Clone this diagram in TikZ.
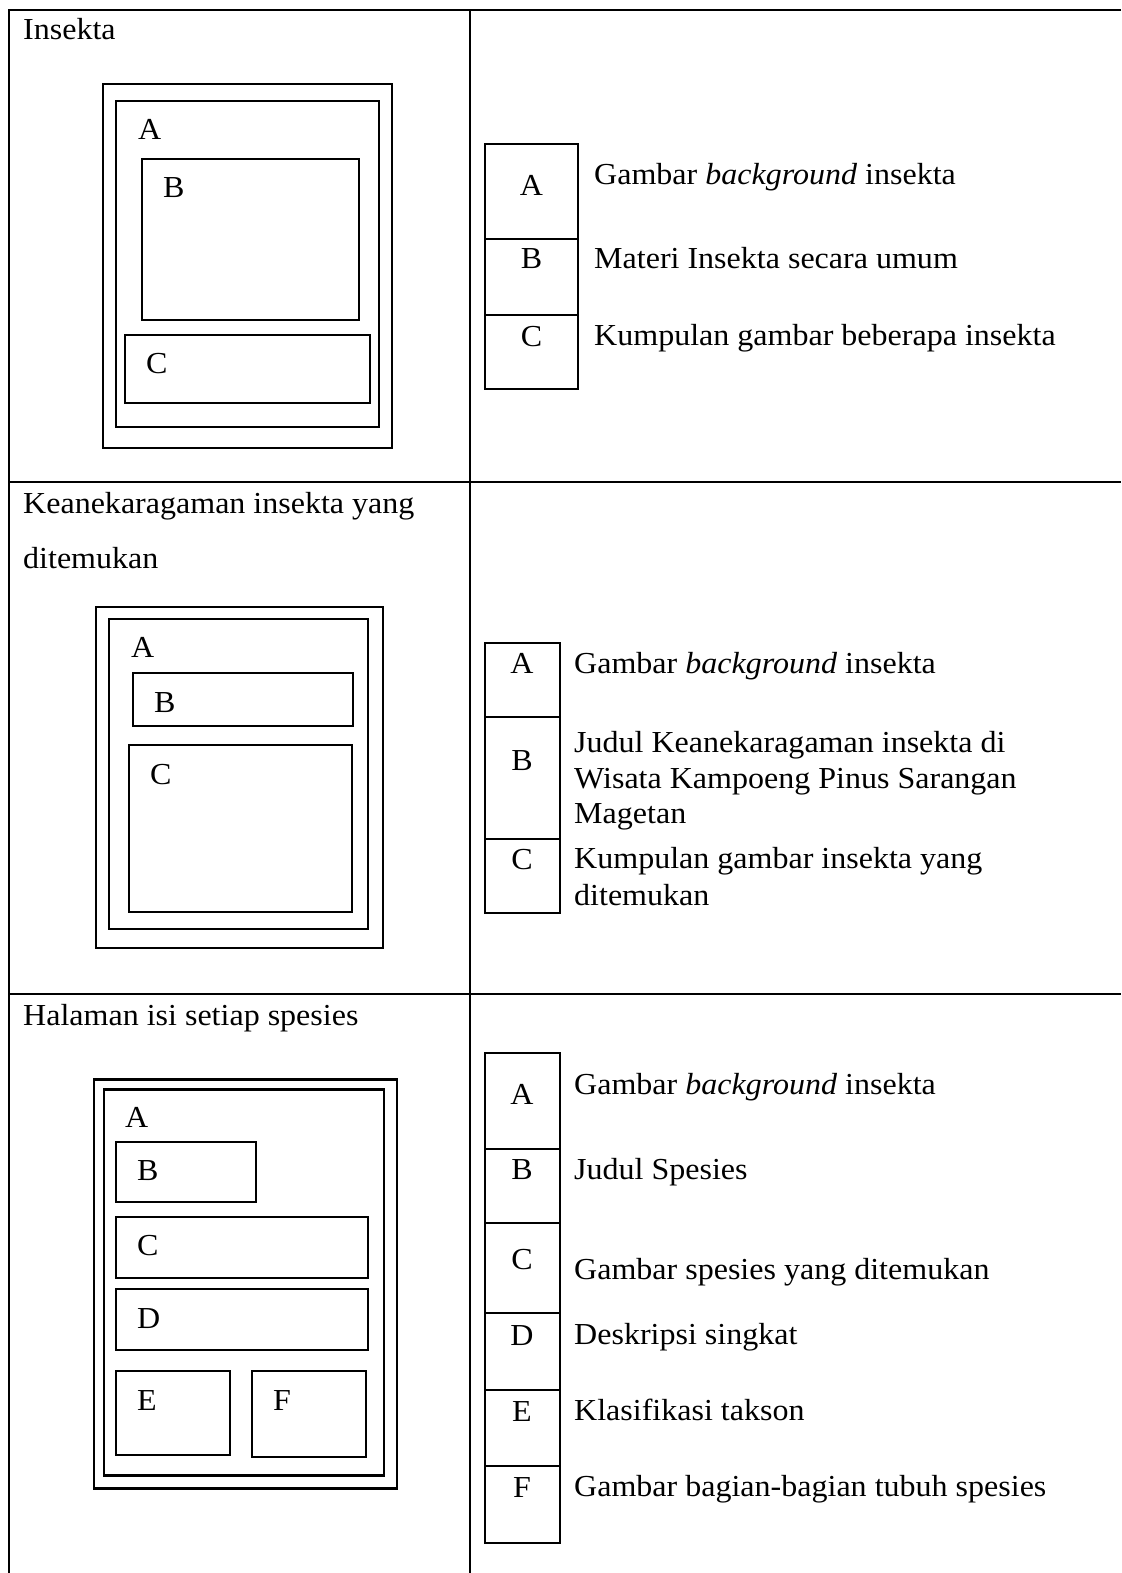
\documentclass[tikz,border=0pt]{standalone}
\usepackage{fontspec}
\setmainfont{Liberation Serif}[FakeStretch=1.05]
\begin{document}
\begin{tikzpicture}[x=1pt,y=-1pt,
  grid/.style={line width=2pt},
  dbox/.style={draw,line width=2.6pt},
  lbox/.style={draw,line width=2pt},
  txt/.style={anchor=base west,inner sep=0pt,font=\fontsize{30.5}{35.5}\selectfont},
  lab/.style={anchor=base,inner sep=0pt,font=\fontsize{30.5}{35.5}\selectfont}]
\useasboundingbox (0,0) rectangle (1121,1573);
% table grid
\draw[grid] (1121,10) -- (9,10) -- (9,1573);
\draw[grid] (470,10) -- (470,1573);
\draw[grid] (9,482) -- (1121,482);
\draw[grid] (9,994) -- (1121,994);

% ---------- Row 1 ----------
\node[txt] (t1) at (23,40) {Insekta};
\draw[dbox] (103,84) rectangle (392,448);
\draw[dbox] (116,101) rectangle (379,427);
\draw[dbox] (142,159) rectangle (359,320);
\draw[dbox] (125,335) rectangle (370,403);
\node[txt] (r1A) at (138,140) {A};
\node[txt] (r1B) at (163,197) {B};
\node[txt] (r1C) at (146,373) {C};
% legend 1
\draw[lbox] (485,144) rectangle (578,389);
\draw[lbox] (485,239) -- (578,239);
\draw[lbox] (485,315) -- (578,315);
\node[lab] (l1A) at (531.5,196) {A};
\node[lab] (l1B) at (531.5,268) {B};
\node[lab] (l1C) at (531.5,346) {C};
\node[txt] (d1A) at (594,185) {Gambar \textit{background} insekta};
\node[txt] (d1B) at (594,268) {Materi Insekta secara umum};
\node[txt] (d1C) at (594,345) {Kumpulan gambar beberapa insekta};

% ---------- Row 2 ----------
\node[txt] (t2a) at (23,513) {Keanekaragaman insekta yang};
\node[txt] (t2b) at (23,568) {ditemukan};
\draw[dbox] (96,607) rectangle (383,948);
\draw[dbox] (109,619) rectangle (368,929);
\draw[dbox] (133,673) rectangle (353,726);
\draw[dbox] (129,745) rectangle (352,912);
\node[txt] (r2A) at (131,657) {A};
\node[txt] (r2B) at (154,712) {B};
\node[txt] (r2C) at (150,784) {C};
% legend 2
\draw[lbox] (484.5,643) rectangle (560,913);
\draw[lbox] (484.5,717) -- (560,717);
\draw[lbox] (484.5,839) -- (560,839);
\node[lab] (l2A) at (522,673) {A};
\node[lab] (l2B) at (522,770) {B};
\node[lab] (l2C) at (522,869) {C};
\node[txt] (d2A) at (574,673) {Gambar \textit{background} insekta};
\node[txt] (d2B1) at (574,752) {Judul Keanekaragaman insekta di};
\node[txt] (d2B2) at (574,788) {Wisata Kampoeng Pinus Sarangan};
\node[txt] (d2B3) at (574,823) {Magetan};
\node[txt] (d2C1) at (574,868) {Kumpulan gambar insekta yang};
\node[txt] (d2C2) at (574,905) {ditemukan};

% ---------- Row 3 ----------
\node[txt] (t3) at (23,1025) {Halaman isi setiap spesies};
\draw[dbox] (94,1079.5) rectangle (397,1488.5);
\draw[dbox] (104,1089.5) rectangle (384,1475.5);
\draw[dbox] (116,1142) rectangle (256,1202);
\draw[dbox] (116,1217) rectangle (368,1278);
\draw[dbox] (116,1289) rectangle (368,1350);
\draw[dbox] (116,1371) rectangle (230,1455);
\draw[dbox] (252,1371) rectangle (366,1457);
\node[txt] (r3A) at (125,1127.5) {A};
\node[txt] (r3B) at (137,1180) {B};
\node[txt] (r3C) at (137,1255) {C};
\node[txt] (r3D) at (137,1328) {D};
\node[txt] (r3E) at (137,1410) {E};
\node[txt] (r3F) at (273,1410) {F};
% legend 3
\draw[lbox] (485,1053) rectangle (560,1542.5);
\foreach \yy in {1149,1223,1313,1390,1466} \draw[lbox] (485,\yy) -- (560,\yy);
\node[lab] (l3A) at (522,1104) {A};
\node[lab] (l3B) at (522,1179) {B};
\node[lab] (l3C) at (522,1269) {C};
\node[lab] (l3D) at (522,1345) {D};
\node[lab] (l3E) at (522,1421) {E};
\node[lab] (l3F) at (522,1497.5) {F};
\node[txt] (d3A) at (574,1094) {Gambar \textit{background} insekta};
\node[txt] (d3B) at (574,1179) {Judul Spesies};
\node[txt] (d3C) at (574,1279) {Gambar spesies yang ditemukan};
\node[txt] (d3D) at (574,1344) {Deskripsi singkat};
\node[txt] (d3E) at (574,1420) {Klasifikasi takson};
\node[txt] (d3F) at (574,1496.5) {Gambar bagian-bagian tubuh spesies};
\end{tikzpicture}
\end{document}
